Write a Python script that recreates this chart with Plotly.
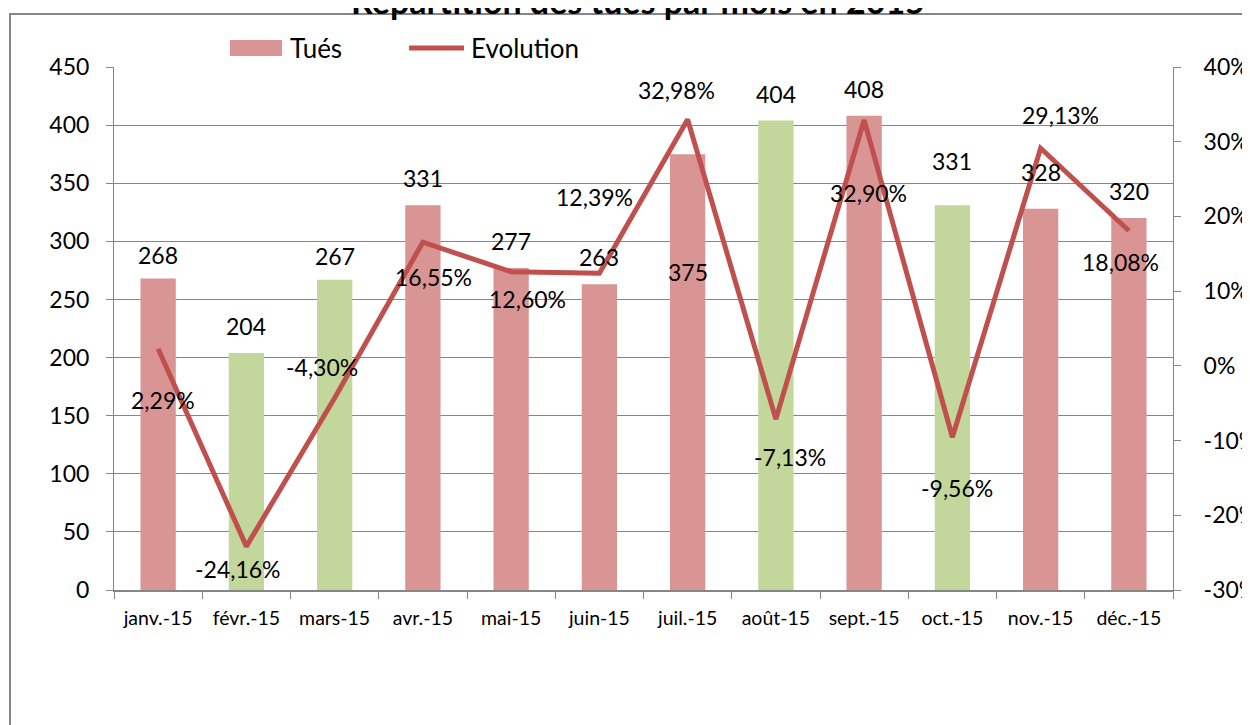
import plotly.graph_objects as go

months = ["janv.-15", "févr.-15", "mars-15", "avr.-15", "mai-15", "juin-15",
          "juil.-15", "août-15", "sept.-15", "oct.-15", "nov.-15", "déc.-15"]
tues = [268, 204, 267, 331, 277, 263, 375, 404, 408, 331, 328, 320]
evolution = [0.0229, -0.2416, -0.0430, 0.1655, 0.1260, 0.1239,
             0.3298, -0.0713, 0.3290, -0.0956, 0.2913, 0.1808]
evolution_labels = ["2,29%", "-24,16%", "-4,30%", "16,55%", "12,60%", "12,39%",
                    "32,98%", "-7,13%", "32,90%", "-9,56%", "29,13%", "18,08%"]
bar_is_green = [False, True, True, False, False, False,
                False, True, False, True, False, False]
y_left_ticks = [0, 50, 100, 150, 200, 250, 300, 350, 400, 450]
y_right_ticks = [-0.3, -0.2, -0.1, 0.0, 0.1, 0.2, 0.3, 0.4]
y_right_ticktext = ["-30%", "-20%", "-10%", "0%", "10%", "20%", "30%", "40%"]
title_text = "Répartition des tués par mois en 2015"
legend_names = ["Tués", "Evolution"]

RED_BAR = "#D99594"
GREEN_BAR = "#C3D69B"
LINE = "#C0504D"
GRID = "#868686"
FONT = "Lato"

# label offsets (styling only)
bar_label_shift = [24, 27, 24, 27, 27, 27, -118, 26, 27, 44, 37, 27]
line_label_dx = [5, -8, -13, 11, 16, -5, -11, 14, 4, 5, 20, -8]
line_label_dy = [-51, -23, 31, -35, -27, 76, 29, -38, -73, -51, 33, -31]

fig = go.Figure()
fig.add_trace(go.Bar(
    x=months, y=tues, name=legend_names[0],
    marker=dict(color=[GREEN_BAR if g else RED_BAR for g in bar_is_green], line=dict(width=0)),
    width=0.40, yaxis="y", showlegend=False,
))
fig.add_trace(go.Scatter(
    x=months, y=evolution, name=legend_names[1], mode="lines",
    line=dict(color=LINE, width=5), yaxis="y2", showlegend=False,
))

annotations = []
for m, v, s in zip(months, tues, bar_label_shift):
    annotations.append(dict(x=m, y=v, xref="x", yref="y", text=str(v),
                            showarrow=False, yanchor="middle", yshift=s,
                            font=dict(family=FONT, size=23, color="black")))
for m, v, t, dx, dy in zip(months, evolution, evolution_labels, line_label_dx, line_label_dy):
    annotations.append(dict(x=m, y=v, xref="x", yref="y2", text=t,
                            showarrow=False, yanchor="middle", xshift=dx, yshift=dy,
                            font=dict(family=FONT, size=23, color="black")))
annotations.append(dict(x=0.495, y=1.128, xref="paper", yref="paper",
                        text="<b>" + title_text + "</b>",
                        showarrow=False, yanchor="middle",
                        font=dict(family=FONT, size=34, color="black")))
# legend texts
annotations.append(dict(x=0.1643, y=1.0363, xref="paper", yref="paper", text=legend_names[0],
                        showarrow=False, xanchor="left", yanchor="middle",
                        font=dict(family=FONT, size=26, color="black")))
annotations.append(dict(x=0.3352, y=1.0363, xref="paper", yref="paper", text=legend_names[1],
                        showarrow=False, xanchor="left", yanchor="middle",
                        font=dict(family=FONT, size=26, color="black")))

shapes = [
    dict(type="rect", xref="paper", yref="paper", x0=-0.0982, x1=1.3,
         y0=-0.6, y1=1.1013, line=dict(color=GRID, width=2), fillcolor="rgba(0,0,0,0)"),
    # legend swatches
    dict(type="rect", xref="paper", yref="paper", x0=0.1095, x1=0.1586,
         y0=1.0210, y1=1.0516, line=dict(width=0), fillcolor=RED_BAR),
    dict(type="line", xref="paper", yref="paper", x0=0.2786, x1=0.3305,
         y0=1.0363, y1=1.0363, line=dict(color=LINE, width=5)),
]

fig.update_layout(
    width=1250, height=725,
    margin=dict(l=106, r=85, t=59, b=143, autoexpand=False),
    paper_bgcolor="white", plot_bgcolor="white",
    showlegend=False,
    xaxis=dict(type="category", showgrid=False, showline=True, linecolor=GRID, linewidth=2,
               ticks="outside", tickson="boundaries", ticklen=7, tickcolor=GRID,
               ticklabelstandoff=10, automargin=False,
               tickfont=dict(family=FONT, size=19.5, color="black")),
    yaxis=dict(range=[0, 450], tickvals=y_left_ticks, showgrid=True, gridcolor=GRID, gridwidth=1,
               showline=True, linecolor=GRID, linewidth=1, ticks="outside", ticklen=7,
               tickcolor=GRID, zeroline=False, ticklabelstandoff=12, automargin=False,
               tickfont=dict(family=FONT, size=23, color="black")),
    yaxis2=dict(range=[-0.3, 0.4], tickvals=y_right_ticks, ticktext=y_right_ticktext,
                overlaying="y", side="right", showgrid=False, showline=True, linecolor=GRID,
                linewidth=1, ticks="outside", ticklen=7, tickcolor=GRID, zeroline=False,
                ticklabelstandoff=18, automargin=False,
                tickfont=dict(family=FONT, size=23, color="black")),
    annotations=annotations,
    shapes=shapes,
)

fig.write_html("out.html")
